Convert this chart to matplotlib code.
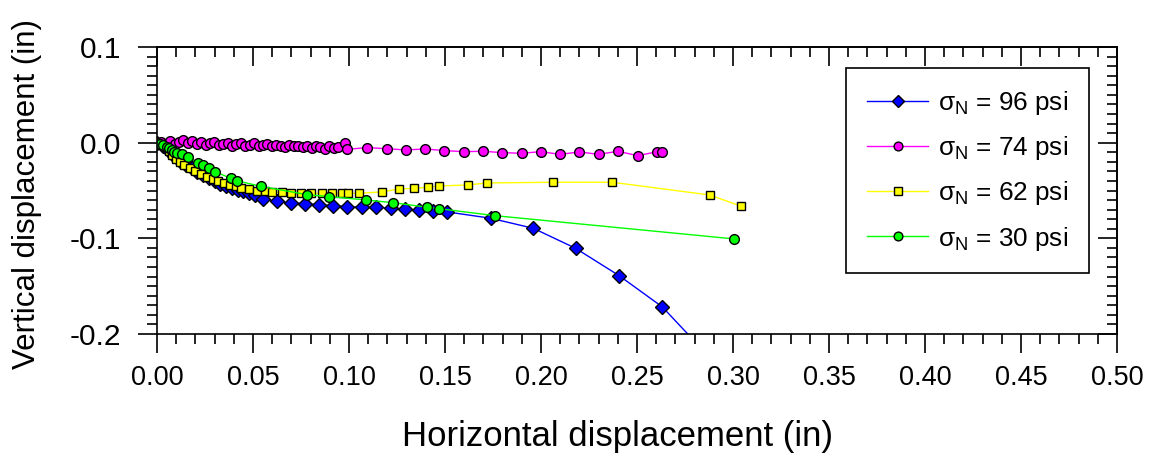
import matplotlib
matplotlib.use('Agg')
import matplotlib.pyplot as plt
from matplotlib.ticker import MultipleLocator, FuncFormatter

plt.rcParams['font.family'] = ['Liberation Sans', 'DejaVu Sans']
plt.rcParams['axes.unicode_minus'] = False

# sigma_N = 96 psi
x96 = [0.0, 0.003, 0.006, 0.009, 0.012, 0.015, 0.018, 0.021, 0.024, 0.027, 0.030,
       0.033, 0.036, 0.039, 0.042, 0.045, 0.048, 0.051, 0.0554, 0.0623, 0.0696,
       0.0771, 0.0845, 0.0918, 0.0991, 0.1068, 0.1141, 0.1217, 0.1292, 0.1366,
       0.1439, 0.1512, 0.1738, 0.1960, 0.2180, 0.2406, 0.2632, 0.2858]
y96 = [0.0, -0.004, -0.009, -0.014, -0.019, -0.023, -0.027, -0.031, -0.034, -0.037,
       -0.040, -0.043, -0.045, -0.047, -0.049, -0.051, -0.053, -0.055, -0.0585,
       -0.0613, -0.0627, -0.0637, -0.0648, -0.0658, -0.0669, -0.0675, -0.0675,
       -0.0686, -0.0696, -0.0703, -0.0711, -0.0724, -0.0790, -0.0895, -0.1104,
       -0.1389, -0.1717, -0.2200]

# sigma_N = 74 psi
x74 = [0.0, 0.0023, 0.0046, 0.0069, 0.0092, 0.0115, 0.0138, 0.0161, 0.0184, 0.0207,
       0.0230, 0.0253, 0.0276, 0.0299, 0.0322, 0.0345, 0.0368, 0.0391, 0.0414,
       0.0437, 0.0460, 0.0483, 0.0506, 0.0529, 0.0552, 0.0575, 0.0598, 0.0621,
       0.0644, 0.0667, 0.0690, 0.0713, 0.0736, 0.0759, 0.0782, 0.0805, 0.0828,
       0.0851, 0.0874, 0.0897, 0.0920, 0.0943, 0.0979, 0.0991, 0.1095, 0.1196,
       0.1295, 0.1396, 0.1497, 0.1597, 0.1696, 0.1799, 0.1899, 0.1998, 0.2099,
       0.2200, 0.2300, 0.2401, 0.2504, 0.2606, 0.2632]
y74 = [0.0, 0.001, -0.001, 0.002, -0.001, 0.001, 0.003, 0.000, 0.002, -0.001,
       0.001, -0.002, 0.000, 0.001, -0.002, -0.001, 0.000, -0.003, -0.001, 0.000,
       -0.003, -0.002, 0.000, -0.004, -0.002, -0.001, -0.004, -0.002, -0.003,
       -0.005, -0.002, -0.004, -0.003, -0.005, -0.003, -0.006, -0.004, -0.005,
       -0.007, -0.004, -0.006, -0.005, -0.0006, -0.0069, -0.0052, -0.0063,
       -0.0076, -0.0066, -0.0083, -0.0094, -0.0090, -0.0104, -0.0111, -0.0094,
       -0.0122, -0.0097, -0.0122, -0.0090, -0.0136, -0.0094, -0.0101]

# sigma_N = 62 psi
x62 = [0.0, 0.002, 0.004, 0.006, 0.008, 0.010, 0.012, 0.014, 0.017, 0.020, 0.023,
       0.026, 0.029, 0.032, 0.035, 0.038, 0.041, 0.044, 0.048, 0.052, 0.056, 0.060,
       0.065, 0.070, 0.075, 0.080, 0.086, 0.091, 0.0962, 0.0995, 0.1052, 0.1172,
       0.1262, 0.1337, 0.1410, 0.1469, 0.1620, 0.1720, 0.2061, 0.2372, 0.2880,
       0.3042]
y62 = [0.0, -0.002, -0.005, -0.009, -0.013, -0.017, -0.020, -0.023, -0.027, -0.030,
       -0.033, -0.036, -0.038, -0.040, -0.042, -0.044, -0.045, -0.047, -0.048,
       -0.050, -0.051, -0.052, -0.052, -0.053, -0.053, -0.053, -0.053, -0.053,
       -0.0529, -0.0529, -0.0529, -0.0515, -0.0484, -0.0477, -0.0466, -0.0453,
       -0.0442, -0.0421, -0.0414, -0.0414, -0.0547, -0.0665]

# sigma_N = 30 psi
x30 = [0.0, 0.0016, 0.0033, 0.0050, 0.0064, 0.0076, 0.0090, 0.0103, 0.0129, 0.0160,
       0.0215, 0.0241, 0.0272, 0.0302, 0.0384, 0.0415, 0.0540, 0.0780, 0.0896,
       0.1087, 0.1227, 0.1408, 0.1469, 0.1760, 0.3005]
y30 = [0.0, -0.0014, -0.0024, -0.0042, -0.0059, -0.0076, -0.0094, -0.0111, -0.0122,
       -0.0149, -0.0209, -0.0233, -0.0268, -0.0303, -0.0372, -0.0397, -0.0456,
       -0.0543, -0.0564, -0.0599, -0.0627, -0.0675, -0.0690, -0.0763, -0.1006]

series = [
    (x96, y96, '#0000ff', 'D', 7.0, 'σ$_\\mathregular{N}$ = 96 psi'),
    (x74, y74, '#ff00ff', 'o', 7.0, 'σ$_\\mathregular{N}$ = 74 psi'),
    (x62, y62, '#ffff00', 's', 6.3, 'σ$_\\mathregular{N}$ = 62 psi'),
    (x30, y30, '#00ff00', 'o', 7.0, 'σ$_\\mathregular{N}$ = 30 psi'),
]

fig = plt.figure(figsize=(11.57, 4.66), dpi=100)
ax = fig.add_axes([157 / 1157, 1 - 334 / 466, 960 / 1157, 287 / 466])

for xs, ys, col, mk, ms, lab in series:
    ax.plot(xs, ys, color=col, lw=1.0, marker=mk, ms=ms, mfc=col, mec='black',
            mew=1.0, label=lab)

ax.set_xlim(0, 0.5)
ax.set_ylim(-0.2, 0.1)

fmt_x = FuncFormatter(lambda v, p: '%.2f' % (0.0 if abs(v) < 1e-9 else v))
fmt_y = FuncFormatter(lambda v, p: '%.1f' % (0.0 if abs(v) < 1e-9 else v))

ax.xaxis.set_major_locator(MultipleLocator(0.05))
ax.xaxis.set_minor_locator(MultipleLocator(0.01))
ax.yaxis.set_major_locator(MultipleLocator(0.1))
ax.yaxis.set_minor_locator(MultipleLocator(0.01))
ax.xaxis.set_major_formatter(fmt_x)
ax.yaxis.set_major_formatter(fmt_y)

for s in ax.spines.values():
    s.set_linewidth(1.2)

ax.tick_params(which='both', direction='out', width=1.2, top=False, right=False)
ax.tick_params(which='major', length=13.5)
ax.tick_params(which='minor', length=7)
ax.tick_params(axis='x', labelsize=19.5, pad=9)
ax.tick_params(axis='y', labelsize=21.5, pad=12)

# top and right axes: ticks pointing inward, no labels
top = ax.secondary_xaxis('top')
top.xaxis.set_major_locator(MultipleLocator(0.05))
top.xaxis.set_minor_locator(MultipleLocator(0.01))
top.tick_params(which='both', direction='in', width=1.2, labeltop=False)
top.tick_params(which='major', length=13.5)
top.tick_params(which='minor', length=7)
top.spines['top'].set_linewidth(1.2)

right = ax.secondary_yaxis('right')
right.yaxis.set_major_locator(MultipleLocator(0.1))
right.yaxis.set_minor_locator(MultipleLocator(0.01))
right.tick_params(which='both', direction='in', width=1.2, labelright=False)
right.tick_params(which='major', length=13.5)
right.tick_params(which='minor', length=7)
right.spines['right'].set_linewidth(1.2)

ax.set_xlabel('Horizontal displacement (in)', fontsize=25)
ax.set_ylabel('Vertical displacement (in)', fontsize=22.5)
ax.xaxis.set_label_coords(0.48, -0.30)
ax.yaxis.set_label_coords(-0.120, 0.488)

leg = ax.legend(loc='upper left', bbox_to_anchor=(0.7177, 0.9268), fontsize=18.8,
                frameon=True, fancybox=False, edgecolor='black', framealpha=1,
                handlelength=2.35, handletextpad=0.36, labelspacing=0.66,
                borderpad=0.8, borderaxespad=0, markerscale=0.9)
leg.get_frame().set_linewidth(1.2)

fig.savefig('out.png', dpi=100)
